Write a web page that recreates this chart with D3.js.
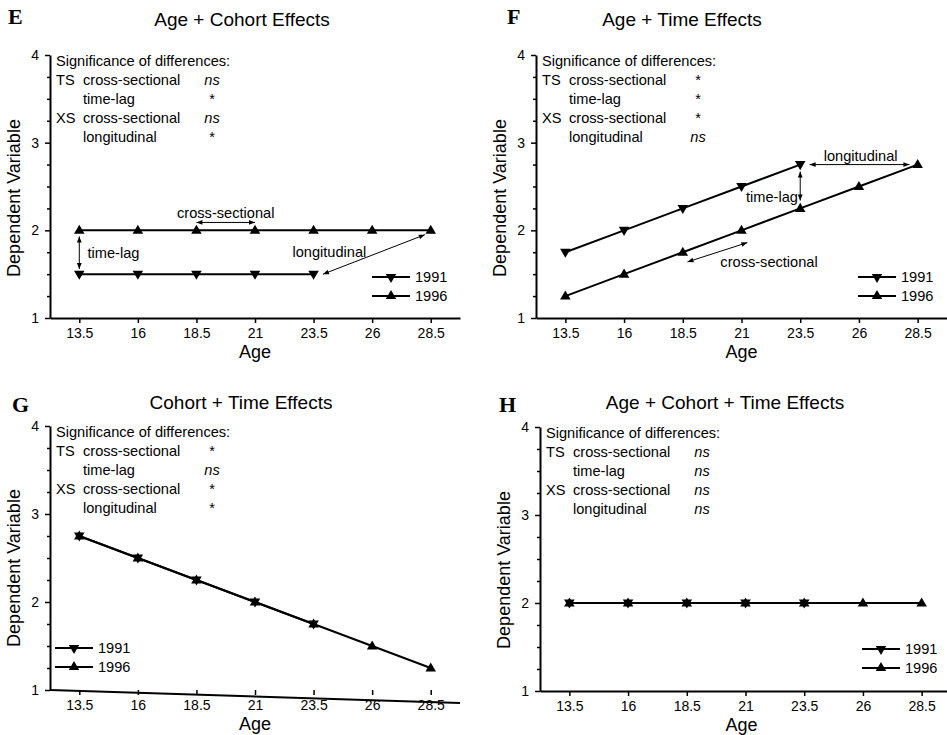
<!DOCTYPE html>
<html>
<head>
<meta charset="utf-8">
<script src="https://cdn.jsdelivr.net/npm/d3@7"></script>
<style>
  body { margin: 0; background: #fff; }
  text { font-family: "Liberation Sans", Arial, sans-serif; fill: #000; }
</style>
</head>
<body>
<div id="target"></div>
<script>
// ages on the x axis
const ages = [13.5, 16, 18.5, 21, 23.5, 26, 28.5];
const ages1991 = [13.5, 16, 18.5, 21, 23.5];
const xTickLabels = ["13.5", "16", "18.5", "21", "23.5", "26", "28.5"];
const yMajorTicks = [1, 2, 3, 4];
const yMinorTicks = [1.25, 1.5, 1.75, 2.25, 2.5, 2.75, 3.25, 3.5, 3.75];
const seriesNames = ["1991", "1996"];

// dependent variable values per panel
const eVals1991 = [1.5, 1.5, 1.5, 1.5, 1.5];
const eVals1996 = [2, 2, 2, 2, 2, 2, 2];
const fVals1991 = [1.75, 2, 2.25, 2.5, 2.75];
const fVals1996 = [1.25, 1.5, 1.75, 2, 2.25, 2.5, 2.75];
const gVals1991 = [2.75, 2.5, 2.25, 2, 1.75];
const gVals1996 = [2.75, 2.5, 2.25, 2, 1.75, 1.5, 1.25];
const hVals1991 = [2, 2, 2, 2, 2];
const hVals1996 = [2, 2, 2, 2, 2, 2, 2];

// significance table
const sigGroups = ["TS", "", "XS", ""];
const sigRows = ["cross-sectional", "time-lag", "cross-sectional", "longitudinal"];
const eSig = ["ns", "*", "ns", "*"];
const fSig = ["*", "*", "*", "ns"];
const gSig = ["*", "ns", "*", "*"];
const hSig = ["ns", "ns", "ns", "ns"];

const width = 947, height = 735;

const svg = d3.select("#target").append("svg")
  .attr("width", width)
  .attr("height", height);

svg.append("defs").append("marker")
  .attr("id", "ah")
  .attr("viewBox", "0 0 10 10")
  .attr("refX", 10)
  .attr("refY", 5)
  .attr("markerWidth", 7)
  .attr("markerHeight", 6)
  .attr("orient", "auto-start-reverse")
  .append("path")
  .attr("d", "M0,1L10,5L0,9z")
  .attr("fill", "#000");

const panels = [
  {
    letter: "E", title: "Age + Cohort Effects",
    letterPos: [8, 24], titleX: 242, titleY: 26,
    xr: [50, 460], yr: [318, 55], ylab: [20, 198],
    v1991: eVals1991, v1996: eVals1996, sig: eSig, legX: 322,
    arrows: [
      [[18.5, 2.09], [21, 2.09]],
      [[13.5, 1.93], [13.5, 1.56]],
      [[23.9, 1.5], [28.25, 1.95]]
    ],
    labels: [
      {t: "cross-sectional", x: 19.75, y: 2.14, a: "middle"},
      {t: "time-lag", x: 13.85, y: 1.685, a: "start"},
      {t: "longitudinal", x: 22.6, y: 1.695, a: "start"}
    ]
  },
  {
    letter: "F", title: "Age + Time Effects",
    letterPos: [507, 24], titleX: 682, titleY: 26,
    xr: [536, 947], yr: [318, 55], ylab: [506, 198],
    v1991: fVals1991, v1996: fVals1996, sig: fSig, legX: 322,
    arrows: [
      [[23.9, 2.75], [28.15, 2.75]],
      [[23.5, 2.67], [23.5, 2.34]],
      [[18.7, 1.64], [21.25, 1.86]]
    ],
    labels: [
      {t: "longitudinal", x: 24.5, y: 2.79, a: "start"},
      {t: "time-lag", x: 23.4, y: 2.32, a: "end"},
      {t: "cross-sectional", x: 20.1, y: 1.58, a: "start"}
    ]
  },
  {
    letter: "G", title: "Cohort + Time Effects",
    letterPos: [12, 412], titleX: 241, titleY: 409,
    xr: [50, 460], yr: [690, 426], ylab: [20, 568],
    v1991: gVals1991, v1996: gVals1996, sig: gSig, legX: 5,
    skew: 13, arrows: [], labels: []
  },
  {
    letter: "H", title: "Age + Cohort + Time Effects",
    letterPos: [499, 412], titleX: 725, titleY: 409,
    xr: [540, 951], yr: [691, 427], ylab: [510, 570],
    v1991: hVals1991, v1996: hVals1996, sig: hSig, legX: 322,
    arrows: [], labels: []
  }
];

function styleAxis(sel) {
  sel.attr("font-size", null).attr("font-family", null);
  sel.selectAll("text").style("font-size", "14px");
  sel.selectAll("line").attr("stroke", "#000").attr("stroke-width", 1.5);
  sel.select(".domain").attr("stroke", "#000").attr("stroke-width", 2);
}

function drawPanel(p) {
  let x = d3.scaleLinear().domain([12.25, 29.75]).range(p.xr);
  let y = d3.scaleLinear().domain([1, 4]).range(p.yr);
  let g = svg.append("g");
  let left = p.xr[0], top = y(4);

  g.append("text")
    .attr("x", p.letterPos[0])
    .attr("y", p.letterPos[1])
    .style("font-family", "'Liberation Serif', 'Times New Roman', serif")
    .style("font-weight", "bold")
    .style("font-size", "22px")
    .text(p.letter);

  g.append("text")
    .attr("x", p.titleX)
    .attr("y", p.titleY)
    .attr("text-anchor", "middle")
    .style("font-size", "19px")
    .text(p.title);

  // y axis
  g.append("g")
    .attr("transform", `translate(${left},0)`)
    .call(d3.axisLeft(y).tickValues(yMinorTicks).tickSize(3).tickSizeOuter(0).tickFormat(""))
    .call(styleAxis)
    .select(".domain").remove();
  g.append("g")
    .attr("transform", `translate(${left},0)`)
    .call(d3.axisLeft(y).tickValues(yMajorTicks).tickSize(5).tickSizeOuter(0).tickPadding(6).tickFormat(d3.format("d")))
    .call(styleAxis);

  // x axis
  let xg = g.append("g")
    .attr("transform", `translate(0,${y(1)})`)
    .call(d3.axisBottom(x).tickValues(ages).tickSize(5).tickSizeOuter(0).tickPadding(5)
      .tickFormat((d, i) => xTickLabels[i]))
    .call(styleAxis);
  if (p.skew) {
    xg.select(".domain").remove();
    g.append("line")
      .attr("x1", p.xr[0]).attr("y1", y(1))
      .attr("x2", p.xr[1]).attr("y2", y(1) + p.skew)
      .attr("stroke", "#000").attr("stroke-width", 2);
  }

  g.append("text")
    .attr("x", (p.xr[0] + Math.min(p.xr[1], width)) / 2 + (p.xr[1] > width ? -2 : 0))
    .attr("y", y(1) + 40)
    .attr("text-anchor", "middle")
    .style("font-size", "18px")
    .text("Age");

  g.append("text")
    .attr("transform", `translate(${p.ylab[0]},${p.ylab[1]}) rotate(-90)`)
    .attr("text-anchor", "middle")
    .style("font-size", "18px")
    .text("Dependent Variable");

  // significance table
  g.append("text")
    .attr("x", left + 6).attr("y", top + 10.5)
    .style("font-size", "14.6px")
    .text("Significance of differences:");
  sigRows.forEach((r, i) => {
    let by = top + 29.5 + i * 19.2;
    g.append("text").attr("x", left + 6).attr("y", by).style("font-size", "14.6px").text(sigGroups[i]);
    g.append("text").attr("x", left + 33).attr("y", by).style("font-size", "14.6px").text(r);
    g.append("text").attr("x", left + 162).attr("y", by)
      .attr("text-anchor", "middle")
      .style("font-size", "14.6px")
      .style("font-style", p.sig[i] === "ns" ? "italic" : "normal")
      .text(p.sig[i]);
  });

  // data
  let line = d3.line().x((d) => x(d[0])).y((d) => y(d[1]));
  let sym = d3.symbol().type(d3.symbolTriangle).size(48);
  let s1996 = ages.map((a, i) => [a, p.v1996[i]]);
  let s1991 = ages1991.map((a, i) => [a, p.v1991[i]]);
  [[s1996, 0], [s1991, 180]].forEach(([pts, rot]) => {
    g.append("path")
      .attr("d", line(pts))
      .attr("fill", "none")
      .attr("stroke", "#000")
      .attr("stroke-width", 2);
    g.selectAll(null)
      .data(pts)
      .enter().append("path")
      .attr("d", sym)
      .attr("transform", (d) => `translate(${x(d[0])},${y(d[1]) + (rot ? -0.5 : 0.5)}) rotate(${rot})`)
      .attr("fill", "#000");
  });

  // annotations
  p.arrows.forEach((a) => {
    g.append("line")
      .attr("x1", x(a[0][0])).attr("y1", y(a[0][1]))
      .attr("x2", x(a[1][0])).attr("y2", y(a[1][1]))
      .attr("stroke", "#000").attr("stroke-width", 1)
      .attr("marker-start", "url(#ah)")
      .attr("marker-end", "url(#ah)");
  });
  p.labels.forEach((l) => {
    g.append("text")
      .attr("x", x(l.x)).attr("y", y(l.y))
      .attr("text-anchor", l.a)
      .style("font-size", "14.6px")
      .text(l.t);
  });

  // legend
  seriesNames.forEach((name, i) => {
    let ly = top + 222 + i * 19;
    let lx = left + p.legX;
    g.append("line")
      .attr("x1", lx).attr("y1", ly).attr("x2", lx + 38).attr("y2", ly)
      .attr("stroke", "#000").attr("stroke-width", 2);
    g.append("path")
      .attr("d", sym)
      .attr("transform", `translate(${lx + 19},${ly}) rotate(${i === 0 ? 180 : 0})`)
      .attr("fill", "#000");
    g.append("text")
      .attr("x", lx + 43).attr("y", ly + 5)
      .style("font-size", "14.6px")
      .text(name);
  });
}

panels.forEach(drawPanel);
</script>
</body>
</html>
